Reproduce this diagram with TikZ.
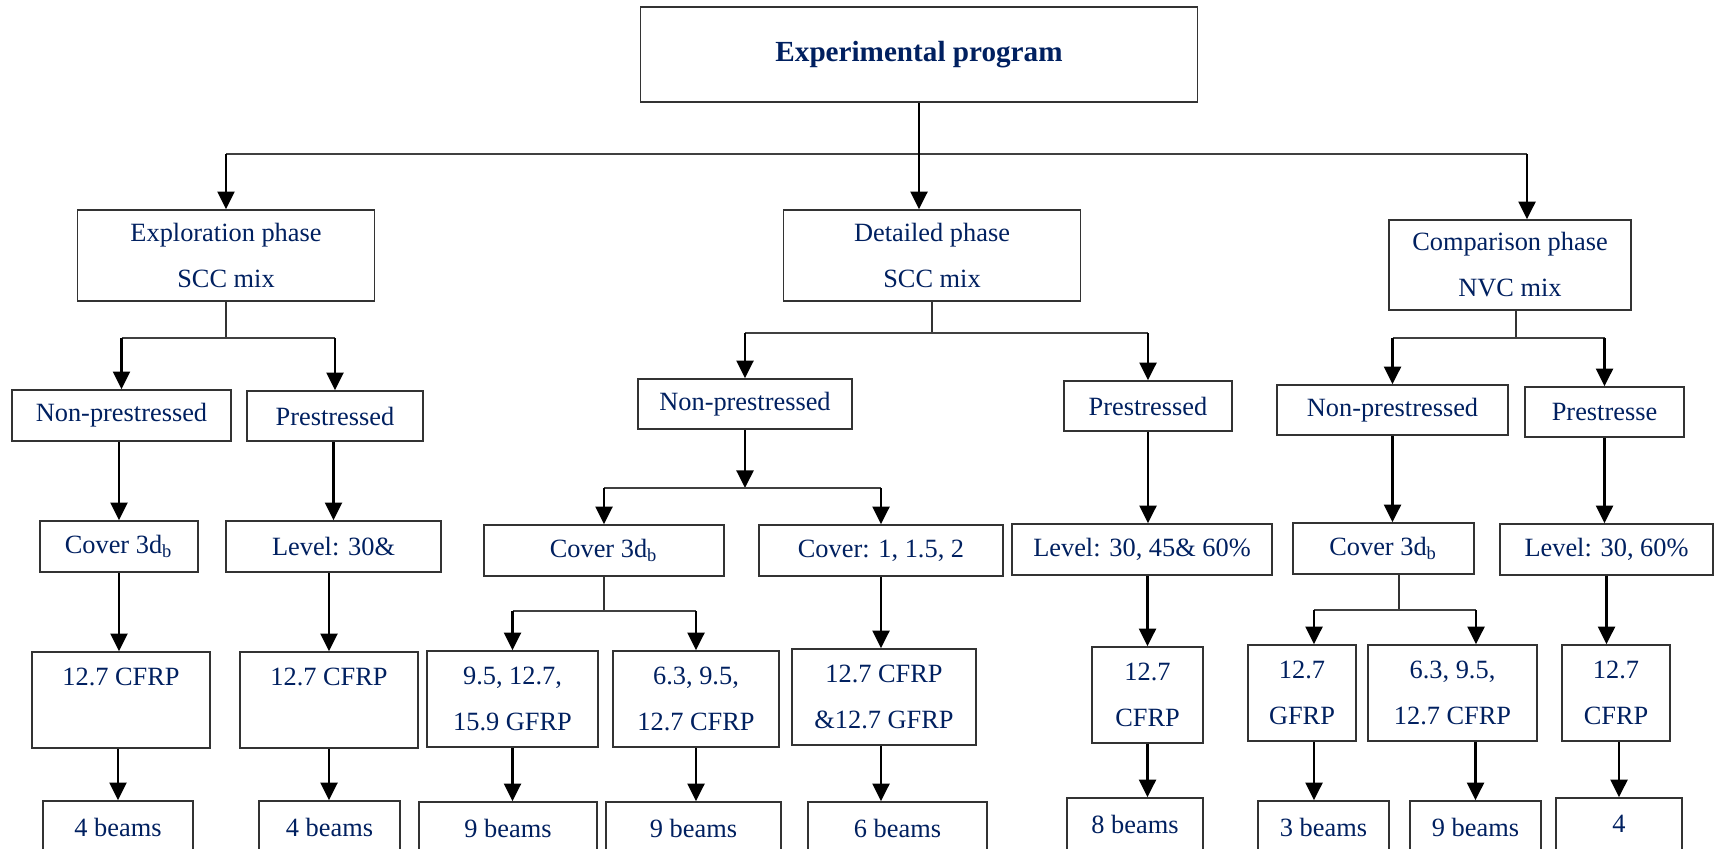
\documentclass[tikz,border=0pt]{standalone}
\usepackage{fontspec}
\setmainfont{Liberation Serif}
\usepackage{xcolor}
\usepackage{tikz}
\usetikzlibrary{arrows.meta, positioning}
\definecolor{navy}{RGB}{0,32,96}
\tikzset{
  box/.style={rectangle, draw=black!80, line width=0.45pt, text=navy, align=center,
    inner sep=0pt, font=\fontsize{7.5}{13.1}\selectfont},
  title/.style={box, font=\fontsize{8.3}{10}\selectfont\bfseries},
  wh/.style 2 args={minimum width=#1cm, minimum height=#2cm},
  arrowline/.style={-{Triangle[length=5pt,width=4.8pt]}, line width=0.75pt, black},
  busline/.style={line width=0.5pt, black!75},
  stemline/.style={line width=0.35pt, black!80}
}
\newcommand{\coverdb}{Cover 3d\textsubscript{b}}
\newcommand{\blank}{\phantom{X}}

\begin{document}
\begin{tikzpicture}
  \useasboundingbox (0,0) rectangle (17.15,-8.49);
  \fill[white] (0,0) rectangle (17.15,-8.49);
  \clip (0,0) rectangle (17.15,-8.49);

  % program and phases
  \node[title, wh={5.57}{0.95}] (top) at (9.19,-0.545) {Experimental program};
  \node[box, wh={2.97}{0.91}] (explore) at (2.26,-2.555) {Exploration phase\\SCC mix};
  \node[box, wh={2.97}{0.91}] (detail) at (9.32,-2.555) {Detailed phase\\SCC mix};
  \node[box, wh={2.42}{0.90}] (compare) at (15.10,-2.65) {Comparison phase\\NVC mix};

  % prestressing
  \node[box, wh={2.19}{0.51}] (np1) at (1.215,-4.155) {Non-prestressed};
  \node[box, wh={1.76}{0.50}] (p1) at (3.35,-4.16) {Prestressed};
  \node[box, wh={2.14}{0.50}] (np2) at (7.45,-4.04) {Non-prestressed};
  \node[box, wh={1.68}{0.50}] (p2) at (11.48,-4.06) {Prestressed};
  \node[box, wh={2.31}{0.50}] (np3) at (13.925,-4.10) {Non-prestressed};
  \node[box, wh={1.59}{0.50}] (p3) at (16.045,-4.12) {Prestresse};

  % cover / level
  \node[box, wh={1.58}{0.51}] (cov1) at (1.19,-5.465) {\coverdb};
  \node[box, wh={2.15}{0.51}] (lev1) at (3.335,-5.465) {Level: 30\&};
  \node[box, wh={2.40}{0.51}] (cov2) at (6.04,-5.505) {\coverdb};
  \node[box, wh={2.44}{0.51}] (cov3) at (8.81,-5.505) {Cover: 1, 1.5, 2};
  \node[box, wh={2.60}{0.51}] (lev2) at (11.42,-5.495) {Level: 30, 45\& 60\%};
  \node[box, wh={1.81}{0.51}] (cov4) at (13.835,-5.485) {\coverdb};
  \node[box, wh={2.13}{0.51}] (lev3) at (16.065,-5.495) {Level: 30, 60\%};

  % bars
  \node[box, wh={1.78}{0.96}] (rf1) at (1.21,-7.00) {12.7 CFRP\\\blank};
  \node[box, wh={1.78}{0.96}] (rf2) at (3.29,-7.00) {12.7 CFRP\\\blank};
  \node[box, wh={1.71}{0.96}] (rf3) at (5.125,-6.99) {9.5, 12.7,\\15.9 GFRP};
  \node[box, wh={1.66}{0.96}] (rf4) at (6.96,-6.99) {6.3, 9.5,\\12.7 CFRP};
  \node[box, wh={1.84}{0.96}] (rf5) at (8.84,-6.97) {12.7 CFRP\\\&12.7 GFRP};
  \node[box, wh={1.11}{0.96}] (rf6) at (11.475,-6.95) {12.7\\CFRP};
  \node[box, wh={1.08}{0.96}] (rf7) at (13.02,-6.93) {12.7\\GFRP};
  \node[box, wh={1.69}{0.96}] (rf8) at (14.525,-6.93) {6.3, 9.5,\\12.7 CFRP};
  \node[box, wh={1.08}{0.96}] (rf9) at (16.16,-6.93) {12.7\\CFRP};

  % number of beams
  \node[box, wh={1.50}{0.52}] (nb1) at (1.18,-8.27) {4 beams};
  \node[box, wh={1.41}{0.52}] (nb2) at (3.295,-8.27) {4 beams};
  \node[box, wh={1.78}{0.52}] (nb3) at (5.08,-8.28) {9 beams};
  \node[box, wh={1.75}{0.52}] (nb4) at (6.935,-8.28) {9 beams};
  \node[box, wh={1.79}{0.52}] (nb5) at (8.975,-8.28) {6 beams};
  \node[box, wh={1.36}{0.52}] (nb6) at (11.35,-8.24) {8 beams};
  \node[box, wh={1.31}{0.52}] (nb7) at (13.235,-8.27) {3 beams};
  \node[box, wh={1.31}{0.52}] (nb8) at (14.755,-8.27) {9 beams};
  \node[box, wh={1.26}{0.52}] (nb9) at (16.19,-8.24) {4};

  % bus points
  \coordinate (busA) at (2.26,-1.54);
  \coordinate (busB) at (15.27,-1.54);
  \coordinate (exbar) at (2.26,-3.38);
  \coordinate (dtbar) at (9.32,-3.33);
  \coordinate (npbar) at (7.45,-4.88);
  \coordinate (cvbar) at (6.04,-6.11);
  \coordinate (cpbar) at (15.16,-3.38);
  \coordinate (cv4L) at (13.14,-6.10);
  \coordinate (cv4R) at (14.76,-6.10);

  % top level
  \draw[busline] (busA) -- (busB);
  \draw[arrowline] (top.south) -- (top.south |- detail.north);
  \draw[arrowline] (busA) -- (explore.north);
  \draw[arrowline] (busB) -- (busB |- compare.north);

  % exploration phase
  \draw[stemline] (explore.south) -- (exbar);
  \draw[busline] (np1.north |- exbar) -- (p1.north |- exbar);
  \draw[arrowline] (np1.north |- exbar) -- (np1.north);
  \draw[arrowline] (p1.north |- exbar) -- (p1.north);
  \draw[arrowline] (cov1.north |- np1.south) -- (cov1.north);
  \draw[arrowline] (cov1.south) -- (cov1.south |- rf1.north);
  \draw[arrowline] (nb1.north |- rf1.south) -- (nb1.north);
  \draw[arrowline] (lev1.north |- p1.south) -- (lev1.north);
  \draw[arrowline] (rf2.north |- lev1.south) -- (rf2.north);
  \draw[arrowline] (rf2.south) -- (rf2.south |- nb2.north);

  % detailed phase
  \draw[stemline] (detail.south) -- (dtbar);
  \draw[busline] (np2.north |- dtbar) -- (p2.north |- dtbar);
  \draw[arrowline] (np2.north |- dtbar) -- (np2.north);
  \draw[arrowline] (p2.north |- dtbar) -- (p2.north);
  \draw[arrowline] (np2.south) -- (npbar);
  \draw[busline] (cov2.north |- npbar) -- (cov3.north |- npbar);
  \draw[arrowline] (cov2.north |- npbar) -- (cov2.north);
  \draw[arrowline] (cov3.north |- npbar) -- (cov3.north);
  \draw[stemline] (cov2.south) -- (cvbar);
  \draw[busline] (rf3.north |- cvbar) -- (rf4.north |- cvbar);
  \draw[arrowline] (rf3.north |- cvbar) -- (rf3.north);
  \draw[arrowline] (rf4.north |- cvbar) -- (rf4.north);
  \draw[arrowline] (rf3.south) -- (rf3.south |- nb3.north);
  \draw[arrowline] (rf4.south) -- (rf4.south |- nb4.north);
  \draw[arrowline] (cov3.south) -- (cov3.south |- rf5.north);
  \draw[arrowline] (rf5.south -| cov3.south) -- (nb5.north -| cov3.south);
  \draw[arrowline] (p2.south) -- (p2.south |- lev2.north);
  \draw[arrowline] (rf6.north |- lev2.south) -- (rf6.north);
  \draw[arrowline] (rf6.south) -- (rf6.south |- nb6.north);

  % comparison phase
  \draw[stemline] (compare.south -| cpbar) -- (cpbar);
  \draw[busline] (np3.north |- cpbar) -- (p3.north |- cpbar);
  \draw[arrowline] (np3.north |- cpbar) -- (np3.north);
  \draw[arrowline] (p3.north |- cpbar) -- (p3.north);
  \draw[arrowline] (np3.south) -- (np3.south |- cov4.north);
  \draw[arrowline] (p3.south) -- (p3.south |- lev3.north);
  \draw[stemline] (cov4.south -| 13.99,0) -- (13.99,-6.10);
  \draw[busline] (cv4L) -- (cv4R);
  \draw[arrowline] (cv4L) -- (cv4L |- rf7.north);
  \draw[arrowline] (cv4R) -- (cv4R |- rf8.north);
  \draw[arrowline] (cv4L |- rf7.south) -- (cv4L |- nb7.north);
  \draw[arrowline] (nb8.north |- rf8.south) -- (nb8.north);
  \draw[arrowline] (lev3.south) -- (lev3.south |- rf9.north);
  \draw[arrowline] (nb9.north |- rf9.south) -- (nb9.north);
\end{tikzpicture}
\end{document}
